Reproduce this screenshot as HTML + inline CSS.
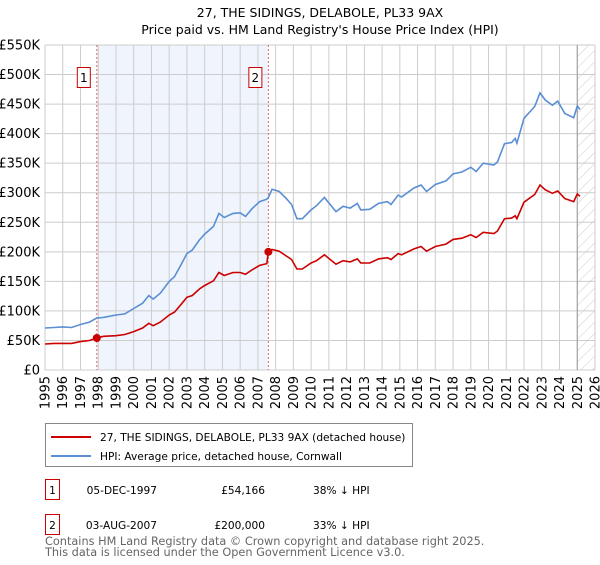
<!DOCTYPE html>
<html><head><meta charset="utf-8"><style>
body{margin:0;background:#fff;font-family:"Liberation Sans","DejaVu Sans",sans-serif;}
svg text{font-family:"DejaVu Sans","Liberation Sans",sans-serif;}
</style></head><body>
<svg id="c" width="600" height="560">
<defs><pattern id="hatch" width="8" height="8" patternUnits="userSpaceOnUse" patternTransform="rotate(45)"><line x1="0" y1="0" x2="0" y2="8" stroke="#ccc" stroke-width="1"/></pattern></defs>
<text x="320" y="17" font-size="12.5" text-anchor="middle">27, THE SIDINGS, DELABOLE, PL33 9AX</text>
<text x="320" y="34" font-size="12.5" text-anchor="middle">Price paid vs. HM Land Registry's House Price Index (HPI)</text>
<g id="grid"></g><g id="marks"></g>
<g>
<rect x="45.5" y="423.5" width="367" height="43" fill="#fff" stroke="#888"/>
<line x1="51" y1="437" x2="91" y2="437" stroke="#cc0000" stroke-width="2"/>
<text x="100" y="441" font-size="10.6">27, THE SIDINGS, DELABOLE, PL33 9AX (detached house)</text>
<line x1="51" y1="456" x2="91" y2="456" stroke="#5b8fd4" stroke-width="2"/>
<text x="100" y="460" font-size="10.6">HPI: Average price, detached house, Cornwall</text>
</g>
<g>
<rect x="45.5" y="479.5" width="14" height="20" fill="#fff" stroke="#cc0000"/>
<text x="52.5" y="494" font-size="10.6" text-anchor="middle">1</text>
<text x="157" y="494" font-size="10.6" text-anchor="end">05-DEC-1997</text>
<text x="265" y="494" font-size="10.6" text-anchor="end">£54,166</text>
<text x="313" y="494" font-size="10.6">38% ↓ HPI</text>
<rect x="45.5" y="514.5" width="14" height="20" fill="#fff" stroke="#cc0000"/>
<text x="52.5" y="529" font-size="10.6" text-anchor="middle">2</text>
<text x="157" y="529" font-size="10.6" text-anchor="end">03-AUG-2007</text>
<text x="265" y="529" font-size="10.6" text-anchor="end">£200,000</text>
<text x="313" y="529" font-size="10.6">33% ↓ HPI</text>
</g>
<text x="45" y="545" font-size="11.3" fill="#666">Contains HM Land Registry data © Crown copyright and database right 2025.</text>
<text x="45" y="556" font-size="11.3" fill="#666">This data is licensed under the Open Government Licence v3.0.</text>
</svg>
<script>
const dates=[1995.0,1995.5,1996.0,1996.5,1997.0,1997.5,1997.92,1998.3,1999.0,1999.5,2000.0,2000.5,2000.85,2001.1,2001.5,2002.0,2002.3,2002.7,2003.0,2003.3,2003.7,2004.0,2004.5,2004.8,2005.1,2005.6,2006.0,2006.3,2006.7,2007.1,2007.5,2007.59,2007.8,2008.2,2008.6,2008.9,2009.2,2009.5,2010.0,2010.3,2010.75,2011.4,2011.8,2012.2,2012.6,2012.8,2013.3,2013.8,2014.3,2014.5,2014.9,2015.1,2015.8,2016.2,2016.5,2017.0,2017.6,2018.0,2018.5,2019.0,2019.3,2019.7,2020.3,2020.5,2020.9,2021.3,2021.5,2021.6,2022.0,2022.6,2022.9,2023.2,2023.6,2023.9,2024.3,2024.8,2025.0,2025.15];
const hpi=[71,72,73,72,77,81,88,89,93,95,104,113,126,120,130,150,158,180,197,203,220,230,243,265,258,265,266,260,274,285,289,292,306,302,290,280,256,256,271,278,292,268,277,274,282,271,272,282,285,280,296,293,308,313,302,314,320,332,335,343,336,350,347,352,383,385,392,384,426,446,469,457,448,455,434,427,447,441];
const price=[44,45,45,45,48,50,54.2,57,58,60,65,71,79,75,81,93,98,112,123,126,137,143,151,165,160,165,165,162,170,177,180,200,204,201,193,187,171,171,181,185,195,179,185,183,188,181,181,188,190,187,197,195,205,209,201,209,213,221,223,229,224,233,231,235,256,257,261,256,284,297,313,305,299,303,290,285,298,294];
const saleDates=[1997.92,2007.59];
const saleValues=[54.166,200];
const saleLabels=["1","2"];
const yTicks=[0,50,100,150,200,250,300,350,400,450,500,550];
const yTickLabels=["£0","£50K","£100K","£150K","£200K","£250K","£300K","£350K","£400K","£450K","£500K","£550K"];
const xTicks=[];for(let y=1995;y<=2026;y++)xTicks.push(y);

const L=45,R=595,T=45,B=370;
const X=v=>L+(v-1995)/(2026-1995)*(R-L);
const Y=v=>B-v/550*(B-T);
const NS="http://www.w3.org/2000/svg";
function mk(p,tag,at){const e=document.createElementNS(NS,tag);for(const k in at)e.setAttribute(k,at[k]);p.appendChild(e);return e;}
const g=document.getElementById('grid'),m=document.getElementById('marks');
const sh=mk(g,'rect',{x:X(saleDates[0]),y:T,width:X(saleDates[1])-X(saleDates[0]),height:B-T,fill:'#f0f4fc'});


const ht=mk(g,'rect',{x:X(2025.0),y:T,width:R-X(2025.0),height:B-T,fill:'url(#hatch)'});


yTicks.forEach((v,i)=>{
 mk(g,'line',{x1:L,x2:R,y1:Y(v),y2:Y(v),stroke:'#cccccc','stroke-width':1});
 const t=mk(g,'text',{x:40,y:Y(v)+4.5,'font-size':13,'text-anchor':'end'});t.textContent=yTickLabels[i];
 
 
});
xTicks.forEach(v=>{
 mk(g,'line',{x1:X(v),x2:X(v),y1:T,y2:B,stroke:'#cccccc','stroke-width':1});
 const t=mk(g,'text',{x:0,y:0,'font-size':13,'text-anchor':'end',transform:`translate(${X(v)+4.5},376) rotate(-90)`});t.textContent=v;
 
 
});
mk(g,'line',{x1:X(2025.0),x2:X(2025.0),y1:T,y2:B,stroke:'#999','stroke-width':1});
saleDates.forEach((d,i)=>{
 const l=mk(m,'line',{x1:X(d),x2:X(d),y1:T,y2:B,stroke:'#ee6666','stroke-width':1,'stroke-dasharray':'2,2'});
 
 
});
const path=(arr,col,name)=>{
 const p=mk(m,'path',{d:arr.map((v,i)=>(i?'L':'M')+X(dates[i]).toFixed(1)+','+Y(v).toFixed(1)).join(''),fill:'none',stroke:col,'stroke-width':1.6});
 
 
};
path(hpi,'#5b8fd4','hpi-line');
path(price,'#cc0000','price-line');
saleDates.forEach((d,i)=>{
 const c=mk(m,'circle',{cx:X(d),cy:Y(saleValues[i]),r:4,fill:'#cc0000'});
 
 
 const bx=X(d)-6-14;
 const r=mk(m,'rect',{x:bx+0.5,y:67.5,width:13,height:20,fill:'#fff',stroke:'#cc0000'});
 
 
 const t=mk(m,'text',{x:bx+7,y:82,'font-size':12,'text-anchor':'middle'});t.textContent=saleLabels[i];
 
 
});
</script>
</body></html>
